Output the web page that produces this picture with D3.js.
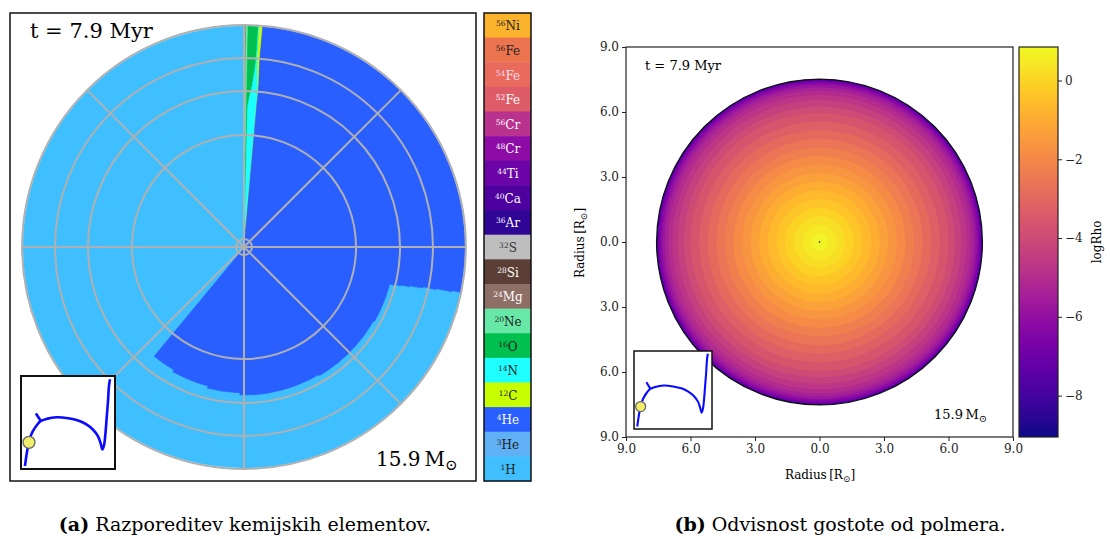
<!DOCTYPE html>
<html lang="en">

<head>
  <meta charset="UTF-8" />
  <title>Kemijska sestava in gostota</title>
  <script src="https://d3js.org/d3.v7.min.js"></script>
  <style>
    body { margin: 0; background: #fff; }
    text { font-family: "DejaVu Serif", "Liberation Serif", serif; }
  </style>
</head>

<body>
  <svg></svg>
</body>

<script>
  // ---- composition shells (outer edge r/R) ----
  const shellR = [0.640, 0.650, 0.660, 0.670, 0.675, 0.680, 0.685, 0.70, 0.71, 0.73, 0.75,
    0.77, 0.79, 0.81, 0.83, 0.85, 0.87, 0.89, 0.92, 0.96, 1.00];
  const h1 = [0.390, 0.417, 0.459, 0.495, 0.584, 0.667, 0.710, 0.710, 0.711, 0.711, 0.712,
    0.712, 0.713, 0.713, 0.714, 0.715, 0.715, 0.715, 0.716, 0.716, 0.717];
  const he4 = [0.596, 0.569, 0.527, 0.491, 0.402, 0.319, 0.276, 0.276, 0.275, 0.275, 0.274,
    0.274, 0.273, 0.273, 0.273, 0.272, 0.272, 0.272, 0.271, 0.271, 0.270];
  const c12 = [0.0001, 0.0001, 0.0001, 0.0002, 0.0002, 0.0002, 0.0002, 0.0003, 0.0004, 0.0006, 0.0009,
    0.0011, 0.0013, 0.0015, 0.0017, 0.0018, 0.0019, 0.0020, 0.0021, 0.0022, 0.0022];
  const n14 = [0.0100, 0.0096, 0.0092, 0.0088, 0.0086, 0.0084, 0.0082, 0.0078, 0.0071, 0.0061, 0.0051,
    0.0041, 0.0033, 0.0025, 0.0019, 0.0015, 0.0012, 0.0010, 0.0009, 0.0008, 0.0008];
  const o16 = [0.0012, 0.0016, 0.0020, 0.0024, 0.0026, 0.0028, 0.0030, 0.0034, 0.0040, 0.0048, 0.0055,
    0.0060, 0.0064, 0.0068, 0.0070, 0.0072, 0.0073, 0.0074, 0.0075, 0.0075, 0.0075];
  const ne20 = [0.0015, 0.0015, 0.0015, 0.0015, 0.0015, 0.0015, 0.0015, 0.0015, 0.0015, 0.0015, 0.0015,
    0.0015, 0.0015, 0.0015, 0.0015, 0.0015, 0.0015, 0.0015, 0.0015, 0.0015, 0.0015];
  const mg24 = [0.0007, 0.0007, 0.0007, 0.0007, 0.0007, 0.0007, 0.0007, 0.0007, 0.0007, 0.0007, 0.0007,
    0.0007, 0.0007, 0.0007, 0.0007, 0.0007, 0.0007, 0.0007, 0.0007, 0.0007, 0.0007];
  const si28 = [0.0007, 0.0007, 0.0007, 0.0007, 0.0007, 0.0007, 0.0007, 0.0007, 0.0007, 0.0007, 0.0007,
    0.0007, 0.0007, 0.0007, 0.0007, 0.0007, 0.0007, 0.0007, 0.0007, 0.0007, 0.0007];

  // legend order (top -> bottom) = clockwise stacking order from 12 o'clock
  const isoMass = ['56', '56', '54', '52', '56', '48', '44', '40', '36', '32', '28', '24', '20', '16', '14', '12', '4', '3', '1'];
  const isoName = ['Ni', 'Fe', 'Fe', 'Fe', 'Cr', 'Cr', 'Ti', 'Ca', 'Ar', 'S', 'Si', 'Mg', 'Ne', 'O', 'N', 'C', 'He', 'He', 'H'];
  const isoColor = ['#fbb22c', '#ec7550', '#e86b5d', '#de5c67', '#b8328e', '#8c0ca5', '#6a04a6', '#4d02a0', '#2e0595',
    '#bebebe', '#5b3e36', '#8d6f66', '#68e8a6', '#00c04f', '#1effff', '#c8ff00', '#2a5fff', '#60b0f5', '#40bfff'];
  const isoText = ['#222', '#222', '#fde', '#fff', '#fff', '#fff', '#fff', '#fff', '#fff',
    '#333', '#fff', '#fff', '#222', '#222', '#222', '#222', '#fff', '#222', '#222'];
  const isoData = [null, null, null, null, null, null, null, null, null,
    null, si28, mg24, ne20, o16, n14, c12, he4, null, h1];

  // ---- density profile ----
  const densR = [7.58, 7.55, 7.50, 7.42, 7.32, 7.20, 7.05, 6.85, 6.60, 6.30, 6.00, 5.60, 5.20, 4.80,
    4.40, 4.00, 3.60, 3.20, 2.80, 2.40, 2.00, 1.60, 1.20, 0.80, 0.40];
  const logRho = [-9.00, -7.50, -6.75, -6.25, -5.80, -5.40, -5.05, -4.70, -4.35, -3.95, -3.60, -3.25, -2.92, -2.58,
    -2.25, -1.93, -1.60, -1.28, -0.95, -0.65, -0.35, -0.05, 0.25, 0.50, 0.70];
  const rhoTicks = [0, -2, -4, -6, -8];
  const radiusTicks = [-9, -6, -3, 0, 3, 6, 9];

  // ---- HR track for the insets ----
  const trackX = [0.042, 0.053, 0.067, 0.085, 0.106, 0.131, 0.166, 0.208, 0.272, 0.378, 0.502, 0.608, 0.696,
    0.767, 0.820, 0.848, 0.866, 0.883, 0.898, 0.912, 0.926, 0.936, 0.947];
  const trackY = [0.968, 0.887, 0.798, 0.713, 0.638, 0.585, 0.532, 0.486, 0.461, 0.443, 0.454, 0.479, 0.521,
    0.578, 0.649, 0.727, 0.791, 0.745, 0.621, 0.443, 0.266, 0.106, 0.035];
  const hookX = [0.159, 0.180, 0.208];
  const hookY = [0.401, 0.436, 0.479];
  const nowX = 0.085, nowY = 0.713;

  const svg = d3.select('svg').attr('width', 1110).attr('height', 539);

  // ================= panel (a) =================
  const cx = 244, cy = 247;
  const rScale = d3.scaleLinear().domain([0, 1]).range([0, 221]);
  const arc = d3.arc();
  const gA = svg.append('g').attr('transform', `translate(${cx},${cy})`);

  // outer shells first, each wedge from the centre, inner ones paint over
  d3.range(shellR.length - 1, -1, -1).forEach(i => {
    let total = 0;
    isoData.forEach(arr => { if (arr) total += arr[i]; });
    let cum = 0;
    isoData.forEach((arr, k) => {
      if (!arr) return;
      const f = arr[i] / total;
      const a0 = cum * 2 * Math.PI, a1 = (cum + f) * 2 * Math.PI;
      cum += f;
      gA.append('path')
        .attr('d', arc({ innerRadius: 0, outerRadius: rScale(shellR[i]), startAngle: a0, endAngle: a1 }))
        .attr('fill', isoColor[k])
        .attr('stroke', isoColor[k])
        .attr('stroke-width', 0.5);
    });
  });

  // polar grid
  const gridR = [0.036, 0.507, 0.706, 0.855, 1.004];
  gA.selectAll('.gc').data(gridR).join('circle')
    .attr('r', d => rScale(d))
    .attr('fill', 'none')
    .attr('stroke', '#b0b0b0')
    .attr('stroke-width', 2);
  gA.selectAll('.gl').data(d3.range(0, 360, 45)).join('line')
    .attr('x1', 0).attr('y1', 0)
    .attr('x2', d => rScale(1.004) * Math.cos(d * Math.PI / 180))
    .attr('y2', d => -rScale(1.004) * Math.sin(d * Math.PI / 180))
    .attr('stroke', '#b0b0b0')
    .attr('stroke-width', 2);

  svg.append('rect').attr('x', 10).attr('y', 13).attr('width', 466).attr('height', 468)
    .attr('fill', 'none').attr('stroke', '#111').attr('stroke-width', 1.5);

  svg.append('text').attr('x', 30).attr('y', 38).attr('font-size', 21).text('t = 7.9 Myr');
  const mA = svg.append('text').attr('x', 376).attr('y', 466).attr('font-size', 20);
  mA.append('tspan').text('15.9\u2009M');
  mA.append('tspan').attr('font-size', 15).attr('dy', 4).text('\u2299');

  // inset helper
  function inset(x0, y0, w, h, lw, dotR) {
    const ix = d3.scaleLinear().domain([0, 1]).range([x0, x0 + w]);
    const iy = d3.scaleLinear().domain([0, 1]).range([y0, y0 + h]);
    svg.append('rect').attr('x', x0).attr('y', y0).attr('width', w).attr('height', h)
      .attr('fill', '#fff').attr('stroke', '#111').attr('stroke-width', lw);
    const line = d3.line().x(d => ix(d[0])).y(d => iy(d[1])).curve(d3.curveCatmullRom);
    svg.append('path').attr('d', line(d3.zip(trackX, trackY)))
      .attr('fill', 'none').attr('stroke', '#0a0aff').attr('stroke-width', lw + 0.6);
    svg.append('path').attr('d', line(d3.zip(hookX, hookY)))
      .attr('fill', 'none').attr('stroke', '#0a0aff').attr('stroke-width', lw + 0.6);
    svg.append('circle').attr('cx', ix(nowX)).attr('cy', iy(nowY)).attr('r', dotR)
      .attr('fill', '#f2ee6a').attr('stroke', '#666').attr('stroke-width', 1.3);
  }
  inset(21, 376, 94, 93, 2, 6);

  // legend bar
  const legY = d3.scaleBand().domain(d3.range(isoName.length)).range([13, 481]);
  const gL = svg.append('g');
  gL.selectAll('rect').data(isoName).join('rect')
    .attr('x', 484).attr('y', (d, i) => legY(i))
    .attr('width', 47).attr('height', legY.bandwidth() + 0.5)
    .attr('fill', (d, i) => isoColor[i]);
  const lt = gL.selectAll('text').data(isoName).join('text')
    .attr('x', 508).attr('y', (d, i) => legY(i) + legY.bandwidth() / 2 + 5)
    .attr('text-anchor', 'middle')
    .attr('font-size', 12)
    .attr('fill', (d, i) => isoText[i]);
  lt.append('tspan').attr('font-size', 7.5).attr('dy', -4).text((d, i) => isoMass[i]);
  lt.append('tspan').attr('dy', 4).text(d => d);
  svg.append('rect').attr('x', 484).attr('y', 13).attr('width', 47).attr('height', 468)
    .attr('fill', 'none').attr('stroke', '#111').attr('stroke-width', 1.5);

  // ================= panel (b) =================
  const xScale = d3.scaleLinear().domain([-9, 9]).range([626, 1013]);
  const yScale = d3.scaleLinear().domain([-9, 9]).range([437, 47]);
  const color = d3.scaleSequential(d3.interpolatePlasma).domain([-9.05, 0.85]);
  const pxPerR = xScale(1) - xScale(0);

  const gB = svg.append('g');
  gB.selectAll('circle').data(densR).join('circle')
    .attr('cx', xScale(0)).attr('cy', yScale(0))
    .attr('r', d => d * pxPerR)
    .attr('fill', (d, i) => color(logRho[i]));
  gB.append('circle').attr('cx', xScale(0)).attr('cy', yScale(0)).attr('r', densR[0] * pxPerR)
    .attr('fill', 'none').attr('stroke', '#111').attr('stroke-width', 1.2);
  gB.append('circle').attr('cx', xScale(0)).attr('cy', yScale(0)).attr('r', 0.8).attr('fill', '#111');

  const fmt = d => Math.abs(d).toFixed(1);
  svg.append('g').attr('transform', 'translate(0,437)')
    .call(d3.axisBottom(xScale).tickValues(radiusTicks).tickFormat(fmt).tickSizeOuter(0).tickSize(4))
    .call(g => g.select('.domain').remove());
  svg.append('g').attr('transform', 'translate(626,0)')
    .call(d3.axisLeft(yScale).tickValues(radiusTicks).tickFormat(fmt).tickSizeOuter(0).tickSize(4))
    .call(g => g.select('.domain').remove());
  svg.selectAll('.tick text').attr('font-family', '"DejaVu Serif", serif').attr('font-size', 12).attr('fill', '#222');
  svg.selectAll('.tick line').attr('stroke', '#222');

  svg.append('rect').attr('x', 626).attr('y', 47).attr('width', 387).attr('height', 390)
    .attr('fill', 'none').attr('stroke', '#222').attr('stroke-width', 1.2);

  svg.append('text').attr('x', 645).attr('y', 70).attr('font-size', 13).text('t = 7.9 Myr');
  const mB = svg.append('text').attr('x', 934).attr('y', 419).attr('font-size', 13);
  mB.append('tspan').text('15.9\u2009M');
  mB.append('tspan').attr('font-size', 10).attr('dy', 3).text('\u2299');

  const xl = svg.append('text').attr('x', 820).attr('y', 479).attr('text-anchor', 'middle').attr('font-size', 12);
  xl.append('tspan').text('Radius\u2009[R');
  xl.append('tspan').attr('font-size', 9).attr('dy', 3).text('\u2299');
  xl.append('tspan').attr('dy', -3).text(']');
  const yl = svg.append('text').attr('transform', 'translate(584,243) rotate(-90)')
    .attr('text-anchor', 'middle').attr('font-size', 12);
  yl.append('tspan').text('Radius\u2009[R');
  yl.append('tspan').attr('font-size', 9).attr('dy', 3).text('\u2299');
  yl.append('tspan').attr('dy', -3).text(']');

  inset(634, 351, 78, 78, 1.5, 5);

  // colorbar
  const cb = d3.scaleLinear().domain([-9.05, 0.85]).range([437, 47]);
  const grad = svg.append('defs').append('linearGradient').attr('id', 'plasma')
    .attr('x1', 0).attr('y1', 1).attr('x2', 0).attr('y2', 0);
  grad.selectAll('stop').data(d3.range(0, 1.0001, 0.05)).join('stop')
    .attr('offset', d => d)
    .attr('stop-color', d => d3.interpolatePlasma(d));
  svg.append('rect').attr('x', 1019).attr('y', 47).attr('width', 39).attr('height', 390)
    .attr('fill', 'url(#plasma)').attr('stroke', '#222').attr('stroke-width', 1.2);
  svg.append('g').attr('transform', 'translate(1058,0)')
    .call(d3.axisRight(cb).tickValues(rhoTicks).tickFormat(d => d < 0 ? '\u2212' + Math.abs(d) : d).tickSize(4))
    .call(g => g.select('.domain').remove())
    .call(g => g.selectAll('text').attr('font-family', '"DejaVu Serif", serif').attr('font-size', 12).attr('fill', '#222'))
    .call(g => g.selectAll('line').attr('stroke', '#222'));
  svg.append('text').attr('transform', 'translate(1101,242) rotate(-90)')
    .attr('text-anchor', 'middle').attr('font-size', 12).text('logRho');

  // captions
  const capA = svg.append('text').attr('x', 245).attr('y', 531).attr('text-anchor', 'middle').attr('font-size', 19);
  capA.append('tspan').attr('font-weight', 'bold').text('(a)');
  capA.append('tspan').text(' Razporeditev kemijskih elementov.');
  const capB = svg.append('text').attr('x', 840).attr('y', 531).attr('text-anchor', 'middle').attr('font-size', 19);
  capB.append('tspan').attr('font-weight', 'bold').text('(b)');
  capB.append('tspan').text(' Odvisnost gostote od polmera.');
</script>

</html>
